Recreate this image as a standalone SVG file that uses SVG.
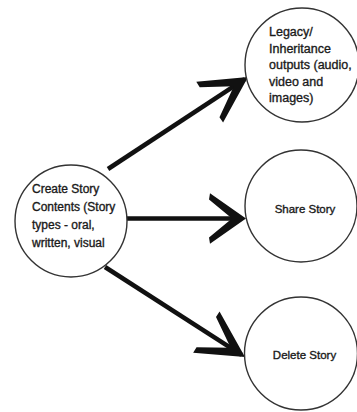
<svg xmlns="http://www.w3.org/2000/svg" width="357" height="412" viewBox="0 0 357 412">
<defs>
<style>
.node circle{fill:#fff;stroke:#333;stroke-width:1.4}
.node text{font-family:"Liberation Sans",Arial,sans-serif;fill:#1a1a1a;stroke:#1a1a1a;stroke-width:0.35}
.lbl{font-size:12px}
.lbl2{font-size:12.5px}
.lbl3{font-size:11.5px}
.conn line{stroke:#111;stroke-width:4.5;stroke-linecap:butt}
</style>
<marker id="ah" markerUnits="userSpaceOnUse" markerWidth="70" markerHeight="70" viewBox="-60 -35 70 70" refX="-4" refY="0" orient="auto" overflow="visible">
<path d="M0,0 L-45.9,-24.4 L-46,-18 L-17,0 L-46,18 L-45.9,24.4 Z" fill="#111"/>
</marker>
<marker id="ah2" markerUnits="userSpaceOnUse" markerWidth="70" markerHeight="70" viewBox="-60 -35 70 70" refX="-4" refY="0" orient="auto" overflow="visible">
<path d="M0,0 L-36,-25.2 L-37,-19 L-14,0 L-37,19 L-36,25.2 Z" fill="#111"/>
</marker>
</defs>
<rect width="357" height="412" fill="#fff"/>
<g id="connectors" class="conn">
<line x1="108" y1="169" x2="244.7" y2="79.2" marker-end="url(#ah)"/>
<line x1="127" y1="218.5" x2="242" y2="218.5" marker-end="url(#ah2)"/>
<line x1="105" y1="267" x2="241.6" y2="354.8" marker-end="url(#ah)"/>
</g>
<g id="create" class="node">
<circle cx="71" cy="221" r="56"/>
<text class="lbl" x="32" y="193">Create Story</text>
<text class="lbl" x="32" y="211">Contents (Story</text>
<text class="lbl" x="32" y="229">types - oral,</text>
<text class="lbl" x="32" y="247">written, visual</text>
</g>
<g id="legacy" class="node">
<circle cx="302" cy="65" r="57"/>
<text class="lbl2" x="269" y="36">Legacy/</text>
<text class="lbl2" x="269" y="52.5">Inheritance</text>
<text class="lbl2" x="269" y="69">outputs (audio,</text>
<text class="lbl2" x="269" y="85.5">video and</text>
<text class="lbl2" x="269" y="102">images)</text>
</g>
<g id="share" class="node">
<circle cx="301" cy="206" r="56"/>
<text class="lbl3" x="305" y="213" text-anchor="middle">Share Story</text>
</g>
<g id="delete" class="node">
<circle cx="301" cy="353.5" r="56.5"/>
<text class="lbl3" x="304.5" y="359" text-anchor="middle">Delete Story</text>
</g>
</svg>
